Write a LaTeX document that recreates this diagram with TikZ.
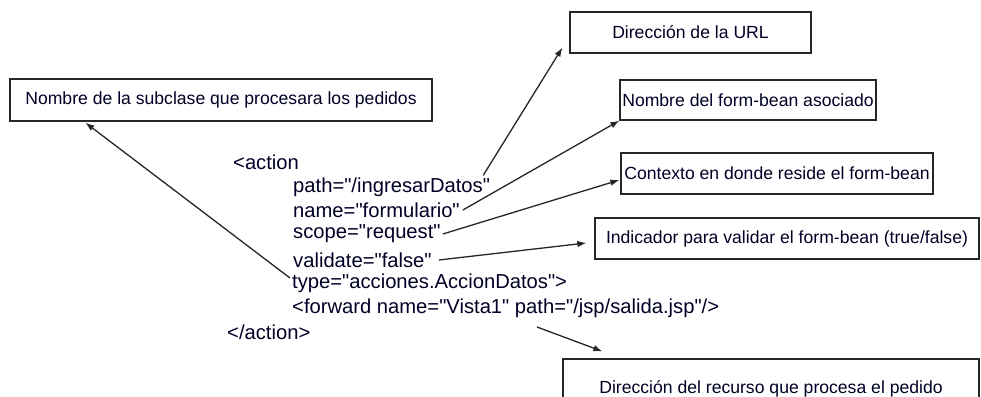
\documentclass[tikz,border=0pt]{standalone}
\usepackage{fontspec}
% keep typed quotes straight, as in the XML source
\setmainfont{Liberation Sans}[Ligatures=TeXOff]
\usetikzlibrary{arrows.meta,calc}
\newcommand{\sq}{\char34\relax}
\tikzset{
  labelbox/.style={draw=black!85, line width=1.3pt, inner sep=0pt,
    font=\fontsize{17.6}{19}\selectfont, text=black!85!blue},
  codeline/.style={anchor=west, inner sep=0pt,
    font=\fontsize{20.2}{22}\selectfont, text=black!85!blue},
  pointer/.style={draw=black!85, line width=1.3pt,
    -{Latex[length=9pt,width=6.5pt]}}
}
\begin{document}
\begin{tikzpicture}[x=1pt,y=-1pt]
\useasboundingbox[fill=white] (0,0) rectangle (981,396);

% description boxes
\node[labelbox, minimum width=241pt, minimum height=41pt] (url) at (690.5,32.5) {Dirección de la URL};
\node[labelbox, minimum width=256pt, minimum height=40pt] (bean) at (748,100) {Nombre del form-bean asociado};
\node[labelbox, minimum width=422pt, minimum height=42pt] (sub) at (221,100) {Nombre de la subclase que procesara los pedidos};
\node[labelbox, minimum width=312pt, minimum height=41pt] (ctx) at (777,173.5) {Contexto en donde reside el form-bean};
\node[labelbox, minimum width=384pt, minimum height=41pt] (val) at (787,238.5) {Indicador para validar el form-bean (true/false)};
\node[labelbox, minimum width=416pt, minimum height=60pt] (res) at (771,389) {Dirección del recurso que procesa el pedido};

% the action mapping
\node[codeline] (open) at (233,162) {<action};
\node[codeline] (path) at (293,187) {path=\sq/ingresarDatos\sq};
\node[codeline] (name) at (293,210) {name=\sq formulario\sq};
\node[codeline] (scope) at (293,234) {scope=\sq request\sq};
\node[codeline] (valid) at (293,260) {validate=\sq false\sq};
\node[codeline] (type) at (292,283) {type=\sq acciones.AccionDatos\sq>};
\node[codeline] (fwd) at (292,308) {<forward name=\sq Vista1\sq{} path=\sq/jsp/salida.jsp\sq/>};
\node[codeline] (close) at (227,332) {</action>};

% connector ends
\coordinate (pathEnd) at ($(path.north east)+(-7,-2)$);
\coordinate (urlTip) at ($(url.south west)+(-7,-6)$);
\coordinate (nameEnd) at ($(name.east)+(3,0)$);
\coordinate (scopeEnd) at ($(scope.east)+(2,0)$);
\coordinate (ctxTip) at ($(ctx.west)+(-1,6.5)$);
\coordinate (validEnd) at ($(valid.east)+(7,0)$);
\coordinate (valTip) at ($(val.west)+(-8,4.5)$);
\coordinate (typeStart) at ($(type.west)+(-2,-5)$);
\coordinate (subTip) at ($(sub.south west)+(76,1)$);
\coordinate (fwdStart) at (537,327);
\coordinate (resTip) at ($(res.north west)+(40,-7)$);

\draw[pointer] (pathEnd) -- (urlTip);
\draw[pointer] (nameEnd) -- (bean.south west);
\draw[pointer] (scopeEnd) -- (ctxTip);
\draw[pointer] (validEnd) -- (valTip);
\draw[pointer] (typeStart) -- (subTip);
\draw[pointer] (fwdStart) -- (resTip);
\end{tikzpicture}
\end{document}
